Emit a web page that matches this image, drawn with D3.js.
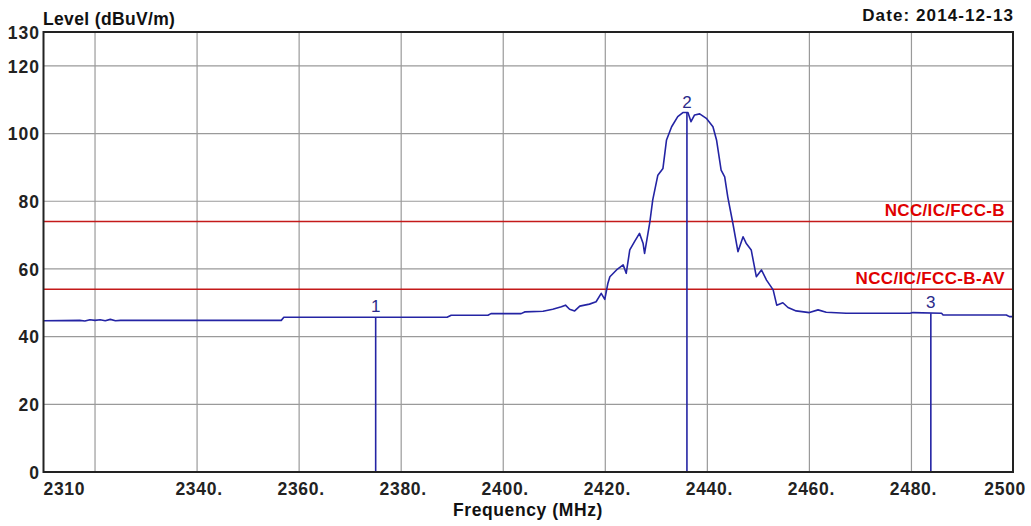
<!DOCTYPE html>
<html><head><meta charset="utf-8">
<script src="https://cdn.jsdelivr.net/npm/d3@7"></script>
<style>
html,body{margin:0;padding:0;background:#fff;}
svg{display:block;}
text{font-family:"Liberation Sans",Arial,sans-serif;}
</style></head>
<body><svg id="chart" width="1031" height="526"></svg>
<script>
// ---- data ----
const traceFreq = [2310,2317,2318,2319,2320,2321,2322,2323,2324,2325,2356.5,2357,2389,2389.8,2397,2397.6,2403.5,2404.2,2407.8,2409.7,2411.4,2412.2,2413,2414,2415,2416.9,2418.2,2419.2,2419.9,2420.5,2420.9,2422.2,2423.5,2424.1,2424.8,2425.7,2426.7,2427.4,2427.7,2428.7,2429.3,2430.3,2431.3,2432.0,2433.0,2434.2,2435.2,2436.2,2436.8,2437.5,2438.5,2439.8,2441.1,2441.8,2442.7,2443.4,2444.0,2445.0,2446.0,2447.0,2447.6,2448.6,2449.6,2450.6,2451.6,2452.9,2453.6,2454.8,2455.8,2457.4,2460.0,2461.7,2463.3,2467.2,2479.7,2480.3,2485.9,2486.2,2498.6,2499.2,2500];
const traceLevel = [44.7,44.8,44.6,45.0,44.8,45.0,44.7,45.1,44.7,44.8,44.8,45.7,45.7,46.3,46.3,46.8,46.8,47.3,47.5,48.1,48.8,49.3,48.1,47.6,49.0,49.6,50.3,52.8,51.0,55.7,57.7,59.7,61.2,58.7,65.6,68.0,70.5,67.6,64.6,73.5,80.4,87.7,89.7,98.1,102.0,105.0,106.2,106.2,103.5,105.5,105.8,104.5,102.0,98.1,89.2,87.2,81.3,73.5,65.1,69.5,67.6,65.6,57.7,59.7,56.7,53.8,49.3,50.0,48.6,47.6,47.1,47.9,47.2,46.9,46.9,47.1,46.9,46.4,46.4,45.9,45.9];
const markerIds = ["1","2","3"];
const markerFreq = [2375, 2436, 2483.8];
const markerLevel = [45.7, 106.2, 46.9];
const limitNames = ["NCC/IC/FCC-B","NCC/IC/FCC-B-AV"];
const limitValues = [74, 54];
const xGrid = [2320,2340,2360,2380,2400,2420,2440,2460,2480];
const xTickValues = [2310,2340,2360,2380,2400,2420,2440,2460,2480,2500];
const xTickLabels = ["2310","2340.","2360.","2380.","2400.","2420.","2440.","2460.","2480.","2500"];
const yGrid = [20,40,60,80,100,120];
const yTickValues = [0,20,40,60,80,100,120,130];
const yTickLabels = ["0","20","40","60","80","100","120","130"];

// ---- layout ----
const L = 43.5, R = 1013, T = 32, B = 472;
const svg = d3.select("#chart");
const x = d3.scaleLinear().domain([2310,2500]).range([44,1013.5]);
const y = d3.scaleLinear().domain([0,130]).range([B,T]);

// grid
svg.append("g").selectAll("line").data(xGrid).join("line")
  .attr("x1",d=>x(d)).attr("x2",d=>x(d)).attr("y1",T).attr("y2",B)
  .attr("stroke","#9a9a9a").attr("stroke-width",1.2);
svg.append("g").selectAll("line").data(yGrid).join("line")
  .attr("x1",L).attr("x2",R).attr("y1",d=>y(d)).attr("y2",d=>y(d))
  .attr("stroke","#9a9a9a").attr("stroke-width",1.2);

// limit lines
svg.append("g").selectAll("line").data(limitValues).join("line")
  .attr("x1",L).attr("x2",R).attr("y1",d=>y(d)).attr("y2",d=>y(d))
  .attr("stroke","#c41a1a").attr("stroke-width",1.5);
svg.append("g").selectAll("text").data(limitNames).join("text")
  .attr("x",1005).attr("y",(d,i)=>y(limitValues[i])-5.5)
  .attr("text-anchor","end").attr("fill","#e00000")
  .attr("font-size",17).attr("font-weight","bold").attr("letter-spacing","0.35px")
  .text(d=>d);

// trace
const pts = traceFreq.map((f,i)=>[f,traceLevel[i]]);
svg.append("path").datum(pts)
  .attr("d", d3.line().x(d=>x(d[0])).y(d=>y(d[1])))
  .attr("fill","none").attr("stroke","#2424a4").attr("stroke-width",1.6)
  .attr("stroke-linejoin","round");

// markers
const mk = svg.append("g");
mk.selectAll("line").data(markerFreq).join("line")
  .attr("x1",d=>x(d)).attr("x2",d=>x(d))
  .attr("y1",(d,i)=>y(markerLevel[i])).attr("y2",B)
  .attr("stroke","#2424a4").attr("stroke-width",1.6);
mk.selectAll("text").data(markerIds).join("text")
  .attr("x",(d,i)=>x(markerFreq[i])).attr("y",(d,i)=>y(markerLevel[i])-5)
  .attr("text-anchor","middle").attr("fill","#2a2a8a").attr("font-size",17)
  .text(d=>d);

// frame
svg.append("rect").attr("x",L).attr("y",T).attr("width",R-L).attr("height",B-T)
  .attr("fill","none").attr("stroke","#222").attr("stroke-width",2);

// axes labels
const xAxis = d3.axisBottom(x).tickValues(xTickValues)
  .tickFormat((d,i)=>xTickLabels[i]).tickSize(0).tickPadding(0);
const gx = svg.append("g").attr("transform",`translate(0,${B})`).call(xAxis);
gx.select(".domain").remove();
gx.selectAll("text").attr("font-size",17.5).attr("font-weight","bold")
  .attr("letter-spacing","0.7px").attr("fill","#222").attr("font-family","'Liberation Sans',Arial,sans-serif")
  .attr("dy",null).attr("y",22.5)
  .attr("text-anchor",(d,i)=>i===0?"start":(i===xTickValues.length-1?"end":"middle"))
  .attr("dx",(d,i)=>i===0?"-1":(i===xTickValues.length-1?"12":"1.5"));

const yAxis = d3.axisLeft(y).tickValues(yTickValues)
  .tickFormat((d,i)=>yTickLabels[i]).tickSize(0).tickPadding(0);
const gy = svg.append("g").attr("transform",`translate(40,0)`).call(yAxis);
gy.select(".domain").remove();
gy.selectAll("text").attr("font-size",17.5).attr("font-weight","bold")
  .attr("letter-spacing","1px").attr("fill","#222").attr("font-family","'Liberation Sans',Arial,sans-serif")
  .attr("x",0).attr("dy","0.36em");

svg.append("text").attr("x",43).attr("y",24.5).attr("font-size",17.5).attr("font-weight","bold")
  .attr("letter-spacing","0.35px").attr("fill","#111").text("Level (dBuV/m)");
svg.append("text").attr("x",1014).attr("y",21).attr("text-anchor","end").attr("font-size",17)
  .attr("font-weight","bold").attr("letter-spacing","1.1px").attr("fill","#111").text("Date: 2014-12-13");
svg.append("text").attr("x",528).attr("y",515.5).attr("text-anchor","middle").attr("font-size",17.5)
  .attr("font-weight","bold").attr("letter-spacing","0.6px").attr("fill","#111").text("Frequency (MHz)");
</script></body></html>
